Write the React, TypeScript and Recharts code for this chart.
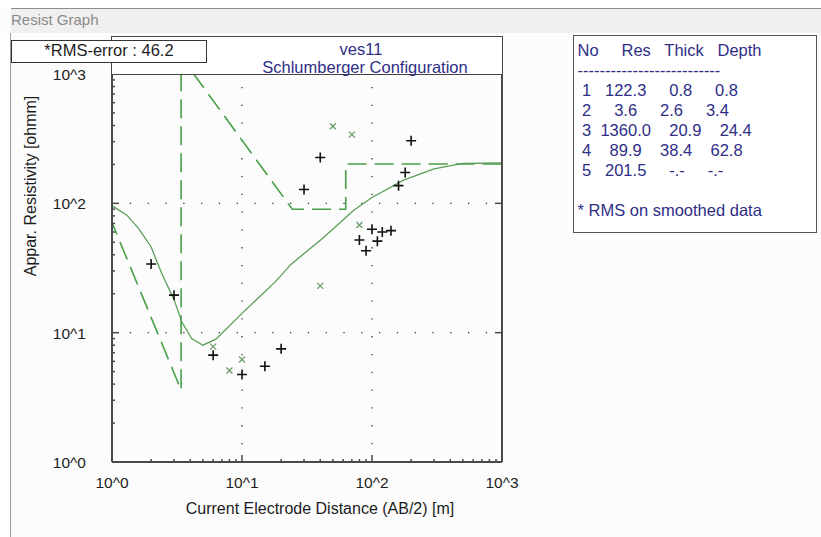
import React from 'react';
import { ComposedChart, Line, Scatter, XAxis, YAxis, ReferenceLine } from 'recharts';

const FONT = '"Liberation Sans", Arial, sans-serif';
const INK = '#1c1c1c';
const NAVY = '#2e2e86';
const AXIS = '#4a4a4a';

// observed apparent resistivity, AB/2 [m] vs rho [ohmm]
const obsAb = [2, 3, 6, 10, 15, 20, 30, 40, 80, 90, 100, 110, 120, 140, 160, 180, 200];
const obsRho = [34, 19.5, 6.7, 4.75, 5.5, 7.5, 128, 226, 52, 43, 63, 51, 60, 61.5, 137, 173, 305];

// smoothed readings
const smoothAb = [6, 8, 10, 40, 50, 70, 80];
const smoothRho = [7.8, 5.1, 6.2, 23, 395, 340, 68];

// forward response of the fitted model
const fitAb = [1, 1.3, 1.6, 2, 2.4, 3, 3.45, 4.1, 5, 6.3, 10, 18, 24, 42, 72, 100, 175, 300, 500, 1000];
const fitRho = [96, 81, 64, 46, 29, 18, 12.1, 9, 8, 8.9, 14.1, 24.7, 34, 54, 88, 111, 151, 185, 204, 205];

// layer outline (depth, resistivity) as plotted
const modelAb = [0.8, 3.4, 3.4, 24.4, 62.8, 62.8, 1000];
const modelRho = [122.3, 3.6, 1360, 89.9, 89.9, 201.5, 201.5];

// layer table
const layerNo = [1, 2, 3, 4, 5];
const layerRes = [122.3, 3.6, 1360.0, 89.9, 201.5];
const layerThick: (number | null)[] = [0.8, 2.6, 20.9, 38.4, null];
const layerDepth: (number | null)[] = [0.8, 3.4, 24.4, 62.8, null];

const rmsError = 46.2;
const gridDecades = [10, 100];

const toPoints = (ab: number[], rho: number[]) => ab.map((a, i) => ({ ab: a, rho: rho[i] }));
const observed = toPoints(obsAb, obsRho);
const smoothed = toPoints(smoothAb, smoothRho);
const fitCurve = toPoints(fitAb, fitRho);
const modelLine = toPoints(modelAb, modelRho);

// 1..9, 10..90, 100..900, 1000
const logTicks: number[] = [];
for (let d = 1; d < 1000; d *= 10) for (let m = 1; m < 10; m++) logTicks.push(m * d);
logTicks.push(1000);

const decadeExp = (v: number) => {
  const e = Math.log10(v);
  return Math.abs(e - Math.round(e)) < 1e-9 ? Math.round(e) : null;
};

const LeftTick = ({ x, y, payload }: any) => {
  const e = decadeExp(payload.value);
  return (
    <g>
      <line x1={x} y1={y} x2={x + (e === null ? 3 : 7)} y2={y} stroke={AXIS} strokeWidth={1.5} />
      {e !== null && (
        <text x={x - 26} y={y + 6} textAnchor="end" fontSize={15.5} fill={INK} fontFamily={FONT}>
          {`10^${e}`}
        </text>
      )}
    </g>
  );
};

const BottomTick = ({ x, y, payload }: any) => {
  const e = decadeExp(payload.value);
  return (
    <g>
      <line x1={x} y1={y} x2={x} y2={y - (e === null ? 3 : 7)} stroke={AXIS} strokeWidth={1.5} />
      {e !== null && (
        <text x={x} y={y + 26} textAnchor="middle" fontSize={15.5} fill={INK} fontFamily={FONT}>
          {`10^${e}`}
        </text>
      )}
    </g>
  );
};

const RightTick = ({ x, y }: any) => (
  <line x1={x} y1={y} x2={x - 7} y2={y} stroke={AXIS} strokeWidth={1.5} />
);

const PlusMark = ({ cx, cy }: any) => (
  <path d={`M${cx - 5},${cy}H${cx + 5}M${cx},${cy - 5}V${cy + 5}`} stroke="#111" strokeWidth={1.6} fill="none" />
);

const CrossMark = ({ cx, cy }: any) => (
  <path
    d={`M${cx - 3},${cy - 3}L${cx + 3},${cy + 3}M${cx - 3},${cy + 3}L${cx + 3},${cy - 3}`}
    stroke="#6a9c6a"
    strokeWidth={1.3}
    fill="none"
  />
);

const XTitle = (p: any) => {
  const vb = p.viewBox ?? { x: 112, y: 462, width: 390, height: 75 };
  return (
    <text x={vb.x + vb.width / 2 + 13} y={vb.y + 52} textAnchor="middle" fontSize={16} fill={INK} fontFamily={FONT}>
      Current Electrode Distance (AB/2) [m]
    </text>
  );
};

const YTitle = (p: any) => {
  const vb = p.viewBox ?? { x: 0, y: 74, width: 112, height: 388 };
  const cx = vb.x + 30;
  const cy = vb.y + 112;
  return (
    <text x={cx} y={cy} transform={`rotate(-90, ${cx}, ${cy})`} textAnchor="middle" dominantBaseline="central" fontSize={16} fill={INK} fontFamily={FONT}>
      Appar. Resistivity [ohmm]
    </text>
  );
};

const fmt = (v: number | null) => (v === null ? '-.-' : v.toFixed(1)).padStart(6, ' ');

const tableRows = layerNo.map(
  (n, i) => ` ${n}  ${fmt(layerRes[i])}  ${fmt(layerThick[i])}  ${fmt(layerDepth[i])}`
);

export default function App() {
  const abs = (s: React.CSSProperties): React.CSSProperties => ({ position: 'absolute', boxSizing: 'border-box', ...s });
  return (
    <div style={abs({ left: 0, top: 0, width: 821, height: 537, background: '#fcfcfc', overflow: 'hidden', fontFamily: FONT })}>
      <div style={abs({ left: 0, top: 0, width: 821, height: 8, background: '#fff' })} />
      <div style={abs({ left: 0, top: 33, width: 11, height: 504, background: '#fff', borderRight: '1px solid #9a9a9a' })} />
      <div style={abs({ left: 11, top: 8, width: 810, height: 25, background: '#f0f0f0', borderTop: '1px solid #8c8c8c', overflow: 'hidden' })}>
        <span style={{ position: 'absolute', left: 0, top: 2, fontSize: 15, color: '#8a8a8a', whiteSpace: 'nowrap' }}>Resist Graph</span>
      </div>

      <div style={abs({ left: 0, top: 0 })}>
        <ComposedChart width={821} height={537} margin={{ top: 74, right: 0, bottom: 0, left: 0 }}>
          <XAxis
            dataKey="ab"
            type="number"
            scale="log"
            domain={[1, 1000]}
            allowDataOverflow
            ticks={logTicks}
            interval={0}
            height={75}
            tickSize={0}
            tickMargin={0}
            tickLine={false}
            tick={BottomTick}
            axisLine={{ stroke: AXIS, strokeWidth: 2 }}
            label={{ content: XTitle }}
          />
          <YAxis
            yAxisId="l"
            dataKey="rho"
            type="number"
            scale="log"
            domain={[1, 1000]}
            allowDataOverflow
            ticks={logTicks}
            interval={0}
            width={112}
            tickSize={0}
            tickMargin={0}
            tickLine={false}
            tick={LeftTick}
            axisLine={{ stroke: AXIS, strokeWidth: 2 }}
            label={{ content: YTitle }}
          />
          <YAxis
            yAxisId="r"
            orientation="right"
            dataKey="rho"
            type="number"
            scale="log"
            domain={[1, 1000]}
            allowDataOverflow
            ticks={gridDecades}
            interval={0}
            width={319}
            tickSize={0}
            tickMargin={0}
            tickLine={false}
            tick={RightTick}
            axisLine={{ stroke: AXIS, strokeWidth: 2 }}
          />

          {gridDecades.map((v) => (
            <ReferenceLine key={`gx${v}`} x={v} yAxisId="l" stroke="#333" strokeWidth={1.3} strokeDasharray="1.3 16.5" />
          ))}
          {gridDecades.map((v) => (
            <ReferenceLine key={`gy${v}`} y={v} yAxisId="l" stroke="#333" strokeWidth={1.3} strokeDasharray="1.3 16.5" />
          ))}

          <Line
            yAxisId="l"
            data={modelLine}
            dataKey="rho"
            type="linear"
            stroke="#46a046"
            strokeWidth={1.6}
            strokeDasharray="19 8"
            dot={false}
            activeDot={false}
            isAnimationActive={false}
          />
          <Line
            yAxisId="l"
            data={fitCurve}
            dataKey="rho"
            type="linear"
            stroke="#5a9e5a"
            strokeWidth={1.3}
            dot={false}
            activeDot={false}
            isAnimationActive={false}
          />
          <Scatter yAxisId="l" data={smoothed} dataKey="rho" shape={CrossMark} isAnimationActive={false} />
          <Scatter yAxisId="l" data={observed} dataKey="rho" shape={PlusMark} isAnimationActive={false} />
        </ComposedChart>
      </div>

      {/* header over the plot */}
      <div style={abs({ left: 111, top: 36, width: 392, height: 39, background: '#fff', border: '1.5px solid #444' })} />
      <div style={abs({ left: 261, top: 39, width: 200, textAlign: 'center', fontSize: 16.5, color: NAVY, lineHeight: '20px' })}>ves11</div>
      <div style={abs({ left: 215, top: 57, width: 300, textAlign: 'center', fontSize: 16.5, color: NAVY, lineHeight: '20px' })}>
        Schlumberger Configuration
      </div>

      <div style={abs({ left: 11, top: 40, width: 196, height: 23, background: '#fff', border: '1.5px solid #333', textAlign: 'center', fontSize: 16.5, lineHeight: '19px', color: INK })}>
        {`*RMS-error : ${rmsError}`}
      </div>

      {/* layer table */}
      <div style={abs({ left: 573, top: 35, width: 244, height: 198, background: '#fff', border: '1.5px solid #555', paddingTop: 3.5, paddingLeft: 3.5, color: NAVY, fontSize: 16.5 })}>
        {['No     Res   Thick   Depth', '--------------------------', ...tableRows, '', '* RMS on smoothed data'].map((s, i) => (
          <div key={i} style={{ height: 20, lineHeight: '20px', whiteSpace: 'pre' }}>{s}</div>
        ))}
      </div>
    </div>
  );
}
